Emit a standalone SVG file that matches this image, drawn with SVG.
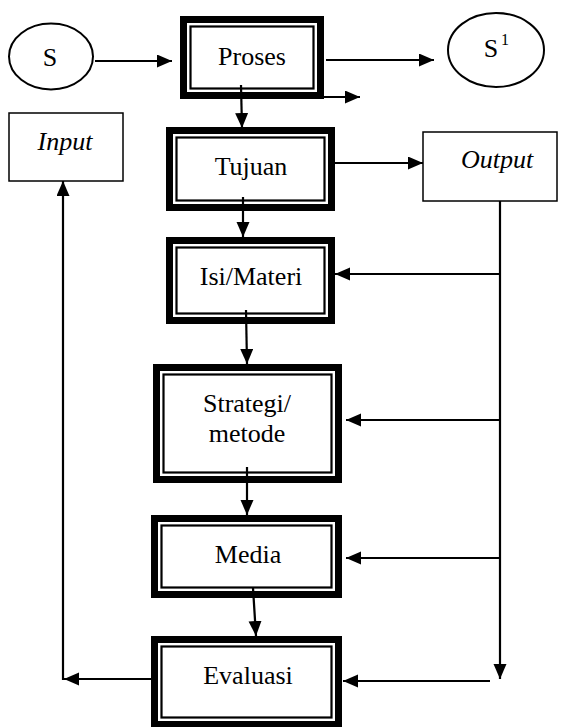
<svg xmlns="http://www.w3.org/2000/svg" width="567" height="727" viewBox="0 0 567 727">
<style>
text{font-family:"Liberation Serif","Times New Roman",serif;font-size:26px;fill:#000;text-anchor:middle}
.it{font-style:italic}
.ell{fill:#fff;stroke:#000;stroke-width:2}
.thin{fill:#fff;stroke:#000;stroke-width:1.5}
.outer{fill:#fff;stroke:#000;stroke-width:7}
.inner{fill:none;stroke:#000;stroke-width:2.2}
.con line{stroke:#000;stroke-width:2.2;fill:none}
</style>
<defs>
<marker id="ah" markerUnits="userSpaceOnUse" markerWidth="16" markerHeight="14" refX="15" refY="6.5" orient="auto">
<path d="M0,0 L15,6.5 L0,13 z" fill="#000"/>
</marker>
</defs>
<rect width="567" height="727" fill="#fff"/>
<g id="node-s">
<ellipse class="ell" cx="51" cy="56.5" rx="42" ry="33"/>
<text x="50" y="66">S</text>
</g>
<g id="node-s1">
<ellipse class="ell" cx="496" cy="50" rx="48" ry="37"/>
<text x="491" y="57">S</text>
<text x="505" y="45" style="font-size:16px">1</text>
</g>
<g id="node-proses">
<rect class="outer" x="183.5" y="19.5" width="137" height="76"/>
<rect class="inner" x="190.5" y="26.5" width="123" height="62"/>
<text x="252" y="65">Proses</text>
</g>
<g id="node-input">
<rect class="thin" x="9" y="113" width="114" height="68"/>
<text class="it" x="65" y="150">Input</text>
</g>
<g id="node-tujuan">
<rect class="outer" x="169.5" y="130.5" width="162" height="77"/>
<rect class="inner" x="176.5" y="137.5" width="148" height="63"/>
<text x="251" y="175">Tujuan</text>
</g>
<g id="node-output">
<rect class="thin" x="423" y="132" width="134" height="69"/>
<text class="it" x="497" y="168">Output</text>
</g>
<g id="node-isi">
<rect class="outer" x="169.5" y="240.5" width="162" height="80"/>
<rect class="inner" x="176.5" y="247.5" width="148" height="66"/>
<text x="251" y="285">Isi/Materi</text>
</g>
<g id="node-strategi">
<rect class="outer" x="156.5" y="367.5" width="182" height="112"/>
<rect class="inner" x="163.5" y="374.5" width="168" height="98"/>
<text x="247" y="412">Strategi/</text>
<text x="247" y="442">metode</text>
</g>
<g id="node-media">
<rect class="outer" x="154.5" y="518.5" width="184" height="76"/>
<rect class="inner" x="161.5" y="525.5" width="170" height="62"/>
<text x="248" y="563">Media</text>
</g>
<g id="node-evaluasi">
<rect class="outer" x="154.5" y="639.5" width="184" height="85"/>
<rect class="inner" x="161.5" y="646.5" width="170" height="71"/>
<text x="248" y="684">Evaluasi</text>
</g>
<g id="connectors" class="con">
<line x1="95" y1="61" x2="172" y2="61" marker-end="url(#ah)"/>
<line x1="326" y1="60" x2="434" y2="60" marker-end="url(#ah)"/>
<line x1="324" y1="97" x2="360" y2="97" marker-end="url(#ah)"/>
<line x1="241" y1="85" x2="242" y2="128" marker-end="url(#ah)"/>
<line x1="335" y1="163" x2="423" y2="163" marker-end="url(#ah)"/>
<line x1="243" y1="197" x2="243" y2="237" marker-end="url(#ah)"/>
<line x1="500" y1="201" x2="500" y2="679" marker-end="url(#ah)"/>
<line x1="500" y1="274" x2="335" y2="274" marker-end="url(#ah)"/>
<line x1="500" y1="420" x2="346" y2="420" marker-end="url(#ah)"/>
<line x1="500" y1="558" x2="346" y2="558" marker-end="url(#ah)"/>
<line x1="490" y1="681" x2="343" y2="681" marker-end="url(#ah)"/>
<line x1="246" y1="310" x2="247" y2="364" marker-end="url(#ah)"/>
<line x1="247" y1="467" x2="247" y2="515" marker-end="url(#ah)"/>
<line x1="253" y1="588" x2="256" y2="636" marker-end="url(#ah)"/>
<line x1="151" y1="679" x2="64" y2="679" marker-end="url(#ah)"/>
<line x1="63" y1="680" x2="63" y2="181" marker-end="url(#ah)"/>
</g>
</svg>
